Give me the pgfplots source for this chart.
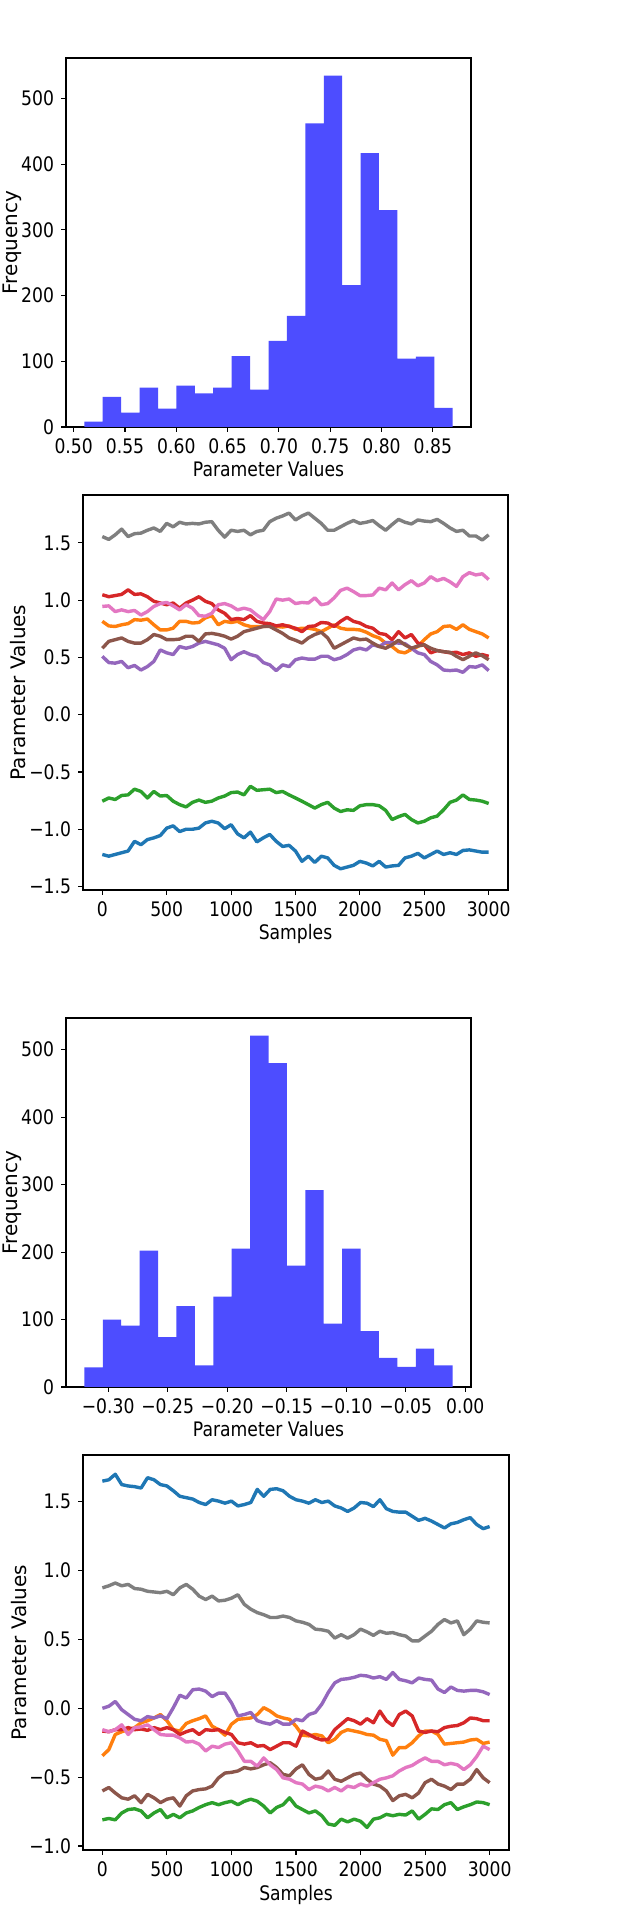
\documentclass[border=0pt]{standalone}
\usepackage{fontspec}
\setmainfont{DejaVu Sans}[FakeStretch=0.86]
\newfontfamily\ylabfont{DejaVu Sans}
\usepackage{pgfplots}
\usepackage{pgfplotstable}
\pgfplotsset{compat=1.18}
\definecolor{histblue}{RGB}{77,77,255}
\definecolor{C0}{HTML}{1F77B4}
\definecolor{C1}{HTML}{FF7F0E}
\definecolor{C2}{HTML}{2CA02C}
\definecolor{C3}{HTML}{D62728}
\definecolor{C4}{HTML}{9467BD}
\definecolor{C5}{HTML}{8C564B}
\definecolor{C6}{HTML}{E377C2}
\definecolor{C7}{HTML}{7F7F7F}

\pgfplotstableread{
s a b c d e f g h
0 -1.22 0.815 -0.755 1.047 0.51 0.58 0.945 1.555
50 -1.235 0.775 -0.727 1.03 0.455 0.64 0.95 1.53
100 -1.22 0.77 -0.74 1.04 0.45 0.655 0.90 1.57
150 -1.205 0.785 -0.705 1.05 0.465 0.67 0.915 1.62
200 -1.19 0.795 -0.70 1.09 0.41 0.64 0.90 1.555
250 -1.105 0.83 -0.65 1.05 0.43 0.625 0.91 1.58
300 -1.135 0.825 -0.67 1.055 0.39 0.625 0.87 1.585
350 -1.09 0.835 -0.727 1.03 0.42 0.655 0.90 1.61
400 -1.075 0.785 -0.67 0.99 0.465 0.70 0.945 1.63
450 -1.055 0.74 -0.71 0.975 0.565 0.685 0.97 1.60
500 -0.99 0.74 -0.705 0.96 0.54 0.655 0.98 1.67
550 -0.97 0.755 -0.755 0.975 0.525 0.655 0.95 1.64
600 -1.02 0.815 -0.785 0.93 0.595 0.66 0.915 1.68
650 -1.00 0.815 -0.805 0.975 0.58 0.685 0.96 1.665
700 -1.00 0.80 -0.765 1.00 0.595 0.685 0.93 1.67
750 -0.99 0.805 -0.745 1.03 0.625 0.64 0.865 1.665
800 -0.945 0.845 -0.765 0.99 0.64 0.705 0.86 1.68
850 -0.93 0.865 -0.755 0.97 0.625 0.71 0.885 1.685
900 -0.945 0.785 -0.727 0.915 0.61 0.70 0.96 1.61
950 -0.995 0.815 -0.71 0.885 0.58 0.685 0.97 1.55
1000 -0.96 0.805 -0.68 0.83 0.48 0.66 0.95 1.61
1050 -1.04 0.815 -0.675 0.84 0.525 0.685 0.915 1.60
1100 -1.075 0.785 -0.70 0.83 0.55 0.725 0.93 1.61
1150 -1.025 0.77 -0.625 0.865 0.525 0.74 0.915 1.57
1200 -1.11 0.77 -0.66 0.815 0.51 0.755 0.87 1.60
1250 -1.075 0.77 -0.655 0.80 0.455 0.77 0.83 1.61
1300 -1.045 0.775 -0.65 0.795 0.435 0.77 0.90 1.685
1350 -1.105 0.77 -0.68 0.775 0.385 0.74 1.01 1.715
1400 -1.15 0.765 -0.67 0.785 0.435 0.71 1.00 1.735
1450 -1.14 0.775 -0.70 0.77 0.42 0.67 1.01 1.76
1500 -1.19 0.745 -0.727 0.755 0.48 0.65 0.97 1.70
1550 -1.28 0.755 -0.755 0.725 0.495 0.625 0.98 1.735
1600 -1.235 0.755 -0.785 0.77 0.485 0.67 0.975 1.76
1650 -1.29 0.745 -0.815 0.775 0.485 0.70 1.02 1.715
1700 -1.235 0.725 -0.785 0.805 0.51 0.72 0.96 1.67
1750 -1.25 0.755 -0.765 0.80 0.51 0.67 0.97 1.61
1800 -1.315 0.785 -0.815 0.77 0.48 0.58 1.02 1.61
1850 -1.345 0.755 -0.845 0.815 0.495 0.61 1.085 1.64
1900 -1.33 0.745 -0.83 0.85 0.525 0.64 1.105 1.67
1950 -1.315 0.745 -0.835 0.815 0.565 0.67 1.075 1.695
2000 -1.28 0.74 -0.795 0.80 0.58 0.655 1.04 1.67
2050 -1.295 0.72 -0.785 0.77 0.565 0.66 1.04 1.68
2100 -1.32 0.69 -0.785 0.755 0.61 0.625 1.045 1.695
2150 -1.28 0.67 -0.795 0.71 0.595 0.595 1.105 1.65
2200 -1.33 0.625 -0.835 0.70 0.63 0.58 1.09 1.61
2250 -1.32 0.595 -0.915 0.655 0.63 0.61 1.15 1.66
2300 -1.315 0.55 -0.89 0.725 0.625 0.65 1.09 1.705
2350 -1.25 0.54 -0.87 0.67 0.62 0.61 1.135 1.68
2400 -1.235 0.57 -0.915 0.70 0.58 0.58 1.17 1.665
2450 -1.21 0.595 -0.945 0.625 0.54 0.60 1.125 1.70
2500 -1.25 0.655 -0.93 0.61 0.525 0.61 1.15 1.69
2550 -1.22 0.705 -0.90 0.54 0.465 0.58 1.205 1.685
2600 -1.19 0.725 -0.885 0.56 0.435 0.56 1.17 1.705
2650 -1.22 0.77 -0.83 0.55 0.39 0.55 1.19 1.67
2700 -1.205 0.775 -0.765 0.54 0.385 0.545 1.16 1.63
2750 -1.22 0.745 -0.745 0.545 0.39 0.51 1.12 1.60
2800 -1.185 0.785 -0.70 0.525 0.37 0.48 1.205 1.61
2850 -1.18 0.745 -0.74 0.54 0.42 0.51 1.24 1.56
2900 -1.19 0.725 -0.745 0.51 0.415 0.54 1.22 1.56
2950 -1.20 0.705 -0.755 0.525 0.435 0.515 1.23 1.525
3000 -1.20 0.67 -0.775 0.51 0.385 0.48 1.18 1.57
}\traceA

\pgfplotstableread{
s a b c d e f g h
0 1.65 -0.345 -0.81 -0.165 0.0 -0.60 -0.155 0.875
50 1.66 -0.30 -0.80 -0.17 0.015 -0.575 -0.17 0.89
100 1.70 -0.19 -0.81 -0.155 0.05 -0.615 -0.155 0.91
150 1.625 -0.17 -0.76 -0.155 -0.01 -0.65 -0.12 0.89
200 1.615 -0.155 -0.735 -0.14 -0.045 -0.66 -0.19 0.90
250 1.61 -0.14 -0.73 -0.155 -0.08 -0.635 -0.14 0.87
300 1.60 -0.105 -0.745 -0.15 -0.09 -0.685 -0.135 0.865
350 1.675 -0.09 -0.795 -0.16 -0.06 -0.625 -0.12 0.85
400 1.66 -0.07 -0.76 -0.14 -0.07 -0.65 -0.155 0.845
450 1.625 -0.045 -0.735 -0.155 -0.055 -0.685 -0.19 0.84
500 1.615 -0.09 -0.795 -0.14 -0.075 -0.66 -0.195 0.85
550 1.58 -0.155 -0.77 -0.155 0.005 -0.65 -0.195 0.825
600 1.54 -0.165 -0.795 -0.19 0.095 -0.71 -0.215 0.875
650 1.53 -0.11 -0.76 -0.17 0.075 -0.635 -0.245 0.90
700 1.52 -0.09 -0.745 -0.155 0.135 -0.60 -0.24 0.865
750 1.495 -0.075 -0.72 -0.19 0.14 -0.59 -0.26 0.815
800 1.48 -0.055 -0.70 -0.155 0.125 -0.585 -0.31 0.79
850 1.515 -0.13 -0.685 -0.16 0.085 -0.565 -0.275 0.815
900 1.505 -0.155 -0.70 -0.155 0.11 -0.505 -0.285 0.78
950 1.49 -0.195 -0.685 -0.175 0.11 -0.47 -0.26 0.785
1000 1.505 -0.115 -0.675 -0.19 0.04 -0.465 -0.25 0.80
1050 1.47 -0.08 -0.70 -0.25 -0.055 -0.455 -0.31 0.825
1100 1.48 -0.075 -0.675 -0.26 -0.045 -0.43 -0.385 0.755
1150 1.495 -0.07 -0.66 -0.25 -0.03 -0.44 -0.385 0.72
1200 1.59 -0.045 -0.675 -0.275 -0.09 -0.43 -0.42 0.695
1250 1.54 0.005 -0.71 -0.27 -0.105 -0.41 -0.36 0.68
1300 1.59 -0.02 -0.76 -0.30 -0.115 -0.395 -0.41 0.66
1350 1.595 -0.055 -0.72 -0.275 -0.09 -0.43 -0.445 0.66
1400 1.58 -0.07 -0.70 -0.25 -0.115 -0.48 -0.505 0.67
1450 1.54 -0.08 -0.65 -0.25 -0.115 -0.49 -0.515 0.66
1500 1.515 -0.13 -0.71 -0.275 -0.08 -0.44 -0.54 0.635
1550 1.505 -0.195 -0.735 -0.165 -0.09 -0.41 -0.55 0.625
1600 1.49 -0.20 -0.76 -0.19 -0.045 -0.48 -0.59 0.61
1650 1.515 -0.19 -0.745 -0.215 -0.03 -0.515 -0.565 0.575
1700 1.495 -0.20 -0.78 -0.23 0.03 -0.505 -0.575 0.57
1750 1.505 -0.25 -0.84 -0.225 0.115 -0.455 -0.60 0.56
1800 1.47 -0.225 -0.85 -0.155 0.185 -0.515 -0.575 0.51
1850 1.455 -0.175 -0.805 -0.115 0.21 -0.53 -0.60 0.535
1900 1.43 -0.155 -0.825 -0.075 0.215 -0.505 -0.565 0.51
1950 1.455 -0.165 -0.805 -0.09 0.225 -0.48 -0.575 0.535
2000 1.495 -0.175 -0.82 -0.115 0.24 -0.47 -0.55 0.575
2050 1.49 -0.19 -0.865 -0.075 0.235 -0.515 -0.565 0.555
2100 1.465 -0.195 -0.805 -0.105 0.22 -0.55 -0.54 0.53
2150 1.515 -0.225 -0.795 -0.02 0.23 -0.565 -0.515 0.56
2200 1.45 -0.235 -0.77 -0.09 0.21 -0.60 -0.505 0.545
2250 1.43 -0.34 -0.78 -0.125 0.26 -0.67 -0.49 0.55
2300 1.425 -0.285 -0.77 -0.045 0.21 -0.635 -0.455 0.535
2350 1.425 -0.285 -0.775 -0.02 0.20 -0.625 -0.43 0.525
2400 1.395 -0.25 -0.745 -0.055 0.185 -0.65 -0.415 0.49
2450 1.365 -0.20 -0.805 -0.165 0.22 -0.615 -0.385 0.49
2500 1.38 -0.165 -0.77 -0.175 0.21 -0.54 -0.36 0.525
2550 1.36 -0.165 -0.73 -0.165 0.205 -0.515 -0.385 0.56
2600 1.335 -0.19 -0.735 -0.17 0.14 -0.55 -0.385 0.61
2650 1.31 -0.26 -0.70 -0.14 0.115 -0.565 -0.41 0.645
2700 1.34 -0.255 -0.685 -0.13 0.155 -0.59 -0.40 0.62
2750 1.35 -0.25 -0.735 -0.125 0.13 -0.55 -0.41 0.635
2800 1.37 -0.245 -0.715 -0.105 0.125 -0.55 -0.445 0.535
2850 1.385 -0.23 -0.70 -0.07 0.13 -0.515 -0.41 0.575
2900 1.335 -0.225 -0.68 -0.075 0.13 -0.445 -0.35 0.635
2950 1.305 -0.255 -0.685 -0.09 0.12 -0.505 -0.275 0.625
3000 1.32 -0.245 -0.70 -0.09 0.10 -0.54 -0.30 0.62
}\traceB

\pgfplotsset{
  mpl/.style={
    scale only axis,
    anchor=south west,
    axis line style={line width=0.55pt},
    tick pos=left,
    tick align=outside,
    major tick length=2.45pt,
    every tick/.style={black, line width=0.55pt},
    tick label style={font=\fontsize{10}{12}\selectfont},
    label style={font=\fontsize{10}{12}\selectfont},
    xlabel style={at={(axis description cs:0.5,0)}, anchor=base, yshift=-25pt},
    clip=true,
  },
  trace/.style={no marks, line width=1.7pt, line join=round},
}

\begin{document}
\begin{tikzpicture}
\path[use as bounding box] (0,0) rectangle (320pt,960pt);

% ---- histogram 1
\begin{axis}[mpl, at={(33pt,746.5pt)}, width=202.5pt, height=184.5pt,
  xmin=0.4925, xmax=0.8872, ymin=0, ymax=561.75,
  xtick={0.50,0.55,0.60,0.65,0.70,0.75,0.80,0.85},
  xticklabels={0.50,0.55,0.60,0.65,0.70,0.75,0.80,0.85},
  ytick={0,100,200,300,400,500},
  yticklabels={0,100,200,300,400,500},
  xlabel={Parameter Values},
  ylabel={\ylabfont Frequency},
  ylabel style={at={(axis description cs:-0.132,0.5)}, anchor=center},
]
\addplot[ybar interval, fill=histblue, draw=none] coordinates {
(0.5104,8) (0.5283,46) (0.5463,22) (0.5642,60) (0.5822,28) (0.6001,63)
(0.6181,51) (0.6360,60) (0.6540,108) (0.6719,57) (0.6899,131) (0.7078,169)
(0.7258,462) (0.7437,535) (0.7617,216) (0.7796,417) (0.7975,330) (0.8155,104)
(0.8334,107) (0.8514,29) (0.8693,29)};
\end{axis}

% ---- trace 1
\begin{axis}[mpl, at={(41.5pt,515pt)}, width=212.5pt, height=197.5pt,
  xmin=-150, xmax=3150, ymin=-1.53, ymax=1.918,
  xtick={0,500,1000,1500,2000,2500,3000},
  xticklabels={0,500,1000,1500,2000,2500,3000},
  ytick={-1.5,-1,-0.5,0,0.5,1,1.5},
  yticklabels={−1.5,−1.0,−0.5,0.0,0.5,1.0,1.5},
  xlabel={Samples},
  ylabel={\ylabfont Parameter Values},
  ylabel style={at={(axis description cs:-0.152,0.5)}, anchor=center},
]
\addplot[trace, C0] table[x=s,y=a]{\traceA};
\addplot[trace, C1] table[x=s,y=b]{\traceA};
\addplot[trace, C2] table[x=s,y=c]{\traceA};
\addplot[trace, C3] table[x=s,y=d]{\traceA};
\addplot[trace, C4] table[x=s,y=e]{\traceA};
\addplot[trace, C5] table[x=s,y=f]{\traceA};
\addplot[trace, C6] table[x=s,y=g]{\traceA};
\addplot[trace, C7] table[x=s,y=h]{\traceA};
\end{axis}

% ---- histogram 2
\begin{axis}[mpl, at={(33pt,266.5pt)}, width=202.5pt, height=184.5pt,
  xmin=-0.3354, xmax=0.0048, ymin=0, ymax=547,
  xtick={-0.30,-0.25,-0.20,-0.15,-0.10,-0.05,0},
  xticklabels={−0.30,−0.25,−0.20,−0.15,−0.10,−0.05,0.00},
  ytick={0,100,200,300,400,500},
  yticklabels={0,100,200,300,400,500},
  xlabel={Parameter Values},
  ylabel={\ylabfont Frequency},
  ylabel style={at={(axis description cs:-0.132,0.5)}, anchor=center},
]
\addplot[ybar interval, fill=histblue, draw=none] coordinates {
(-0.3199,29) (-0.3044,100) (-0.2890,91) (-0.2735,202) (-0.2581,74) (-0.2426,120)
(-0.2271,32) (-0.2117,134) (-0.1962,205) (-0.1808,521) (-0.1653,480) (-0.1498,180)
(-0.1344,292) (-0.1189,94) (-0.1035,205) (-0.0880,83) (-0.0725,43) (-0.0571,30)
(-0.0416,57) (-0.0262,32) (-0.0107,32)};
\end{axis}

% ---- trace 2
\begin{axis}[mpl, at={(41.5pt,35pt)}, width=213pt, height=197.5pt,
  xmin=-150, xmax=3150, ymin=-1.029, ymax=1.84,
  xtick={0,500,1000,1500,2000,2500,3000},
  xticklabels={0,500,1000,1500,2000,2500,3000},
  ytick={-1,-0.5,0,0.5,1,1.5},
  yticklabels={−1.0,−0.5,0.0,0.5,1.0,1.5},
  xlabel={Samples},
  ylabel={\ylabfont Parameter Values},
  ylabel style={at={(axis description cs:-0.149,0.5)}, anchor=center},
]
\addplot[trace, C0] table[x=s,y=a]{\traceB};
\addplot[trace, C1] table[x=s,y=b]{\traceB};
\addplot[trace, C2] table[x=s,y=c]{\traceB};
\addplot[trace, C3] table[x=s,y=d]{\traceB};
\addplot[trace, C4] table[x=s,y=e]{\traceB};
\addplot[trace, C5] table[x=s,y=f]{\traceB};
\addplot[trace, C6] table[x=s,y=g]{\traceB};
\addplot[trace, C7] table[x=s,y=h]{\traceB};
\end{axis}
\end{tikzpicture}
\end{document}
